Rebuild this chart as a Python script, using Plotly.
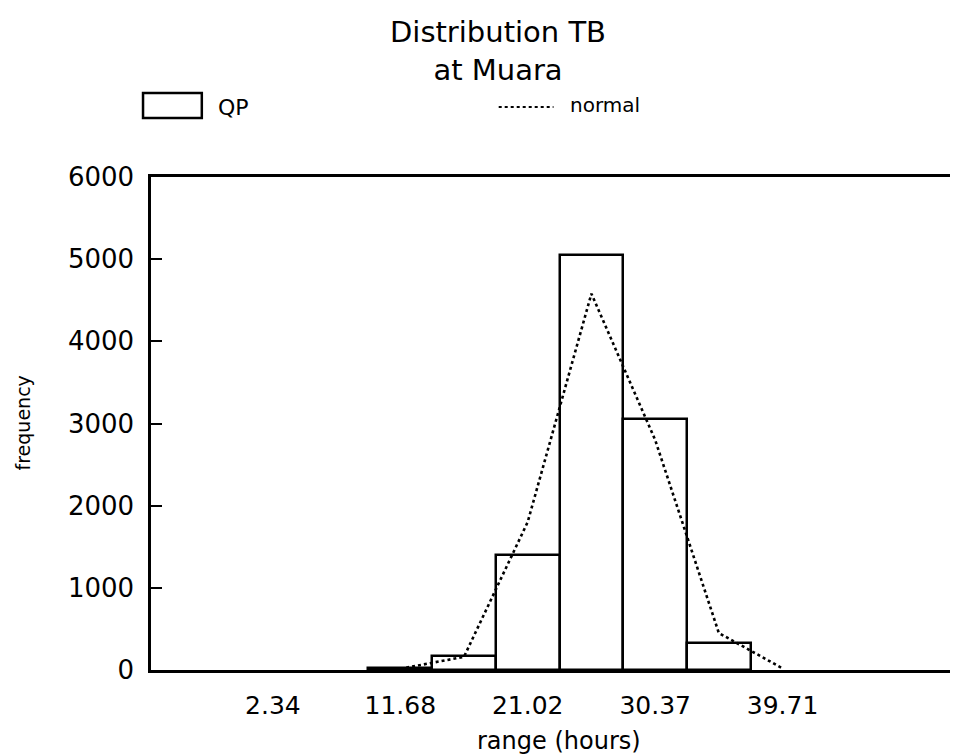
import plotly.graph_objects as go

# ---- data ----
bin_centers = [11.68, 16.35, 21.02, 25.695, 30.37, 35.04]
qp_freq = [20, 165, 1400, 5050, 3050, 330]
normal_x = [11.68, 16.35, 21.02, 25.695, 30.37, 35.04, 39.71]
normal_freq = [15, 160, 1800, 4580, 2800, 450, 20]
x_tick_vals = [2.34, 11.68, 21.02, 30.37, 39.71]
x_tick_text = ["2.34", "11.68", "21.02", "30.37", "39.71"]
y_tick_vals = [0, 1000, 2000, 3000, 4000, 5000, 6000]
bin_width = 4.67

# ---- layout geometry (pixels, page has an 8px body margin) ----
OFF = 8
W, H = 958 - OFF, 755 - OFF
L, R, T, B = 151 - OFF, 956 - OFF, 177 - OFF, 670 - OFF
FONT = "DejaVu Sans"


def px(x):
    return (x - OFF - L) / (R - L)


def py(y):
    return (B - (y - OFF)) / (B - T)


fig = go.Figure()
fig.add_trace(go.Bar(
    x=bin_centers, y=qp_freq, width=bin_width, name="QP",
    marker=dict(color="white", line=dict(color="black", width=2.5)),
    showlegend=False,
))
fig.add_trace(go.Scatter(
    x=normal_x, y=normal_freq, mode="lines", name="normal",
    line=dict(color="black", width=2.6, dash="dot"),
    showlegend=False,
))

fig.update_layout(
    width=W, height=H,
    margin=dict(l=L, r=W - R, t=T, b=H - B, pad=0),
    paper_bgcolor="white", plot_bgcolor="white",
    font=dict(family=FONT, color="black"),
    bargap=0,
)
fig.update_xaxes(
    range=[-6.6, 52.21], tickmode="array", tickvals=x_tick_vals, ticktext=x_tick_text,
    showgrid=False, zeroline=False, showline=True, mirror=True,
    linecolor="black", linewidth=2.5, ticks="", tickfont=dict(size=25, family=FONT),
    ticklabelstandoff=11,
)
fig.update_yaxes(
    range=[0, 6000], tickmode="array", tickvals=y_tick_vals,
    showgrid=False, zeroline=False, showline=True, mirror=True,
    linecolor="black", linewidth=2.5, ticks="inside", ticklen=11, tickwidth=2,
    tickcolor="black", tickfont=dict(size=26, family=FONT),
    ticklabelstandoff=9,
)

# custom legend
fig.add_shape(type="rect", xref="paper", yref="paper",
              x0=px(143), x1=px(202), y0=py(118), y1=py(93),
              line=dict(color="black", width=2.5), fillcolor="white")
fig.add_shape(type="line", xref="paper", yref="paper",
              x0=px(500), x1=px(555), y0=py(107), y1=py(107),
              line=dict(color="black", width=1.8, dash="dot"))
fig.add_annotation(x=px(216), y=py(107), xref="paper", yref="paper",
                   text="QP", showarrow=False, xanchor="left", yanchor="middle",
                   font=dict(size=22, family=FONT))
fig.add_annotation(x=px(570), y=py(105), xref="paper", yref="paper",
                   text="normal", showarrow=False, xanchor="left", yanchor="middle",
                   font=dict(size=20, family=FONT))

# title
fig.add_annotation(x=px(499), y=py(51), xref="paper", yref="paper",
                   text="Distribution TB<br>at Muara", showarrow=False,
                   xanchor="center", yanchor="middle", align="center",
                   font=dict(size=29, family=FONT))

# axis titles
fig.add_annotation(x=px(23), y=py(423), xref="paper", yref="paper",
                   text="frequency", showarrow=False, textangle=-90,
                   xanchor="center", yanchor="middle",
                   font=dict(size=19, family=FONT))
fig.add_annotation(x=px(561), y=py(741), xref="paper", yref="paper",
                   text="range (hours)", showarrow=False,
                   xanchor="center", yanchor="middle",
                   font=dict(size=24, family=FONT))

fig.write_html("out.html")
